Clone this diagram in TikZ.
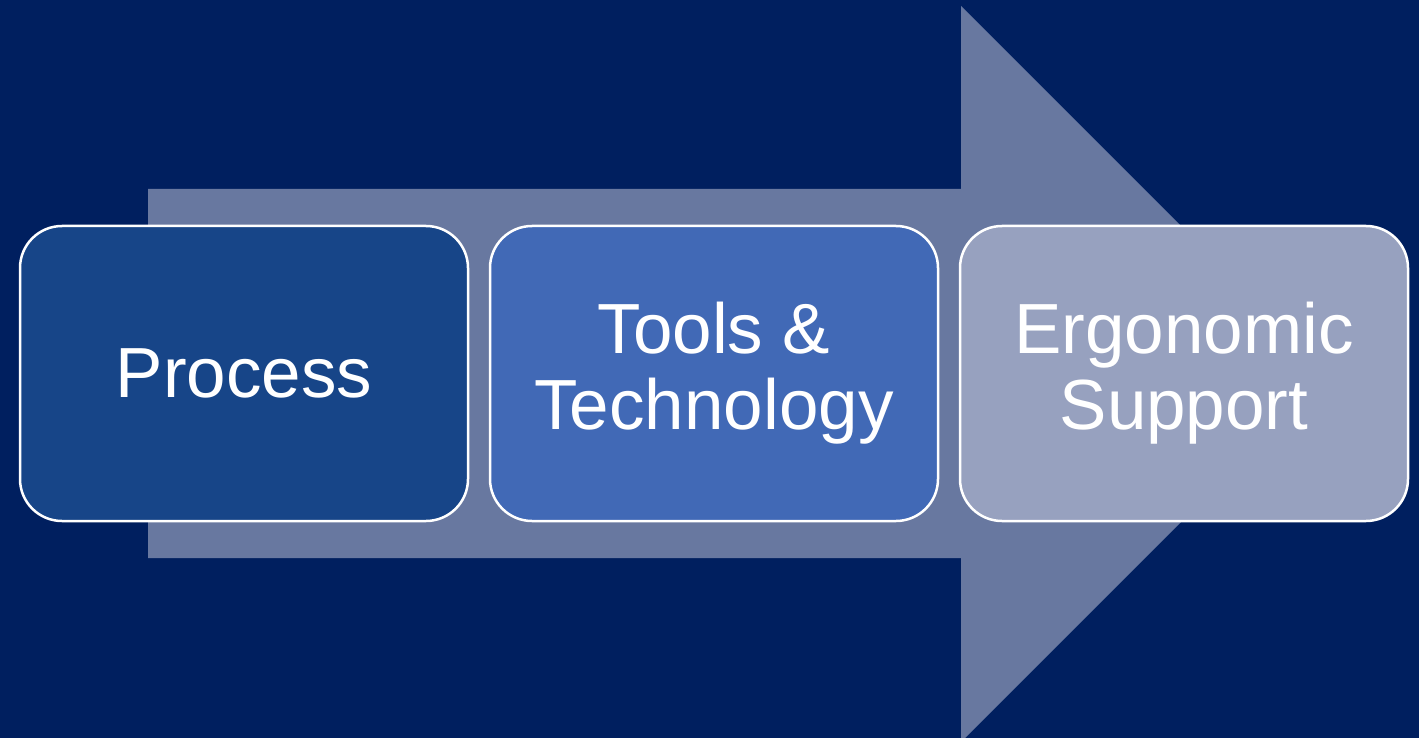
\documentclass[tikz,border=0pt]{standalone}
\usepackage{fontspec}
\setmainfont{Liberation Sans}
\definecolor{navybg}{RGB}{0,31,95}
\definecolor{arrowblue}{RGB}{104,120,160}
\definecolor{stepone}{RGB}{23,69,136}
\definecolor{steptwo}{RGB}{65,105,182}
\definecolor{stepthree}{RGB}{151,161,191}
\begin{document}
\begin{tikzpicture}[x=1pt,y=-1pt,
  stepbox/.style={draw=white, line width=2.5pt, rounded corners=42pt,
    minimum width=448pt, minimum height=295pt, inner sep=0pt,
    text=white, align=center, font=\fontsize{71}{76}\selectfont}]
  % background
  \fill[navybg] (0,0) rectangle (1419,738);
  \useasboundingbox (0,0) rectangle (1419,738);
  % big process arrow behind the steps
  \fill[arrowblue] (148,189) -- (961,189) -- (961,6) -- (1329,374)
    -- (961,742) -- (961,558) -- (148,558) -- cycle;
  % steps
  \node[stepbox, fill=stepone]   (process) at (244,373.5)  {Process};
  \node[stepbox, fill=steptwo]   (tools)   at (714,373.5)  {Tools \&\\Technology};
  \node[stepbox, fill=stepthree] (ergo)    at (1184,373.5) {Ergonomic\\Support};
\end{tikzpicture}
\end{document}
